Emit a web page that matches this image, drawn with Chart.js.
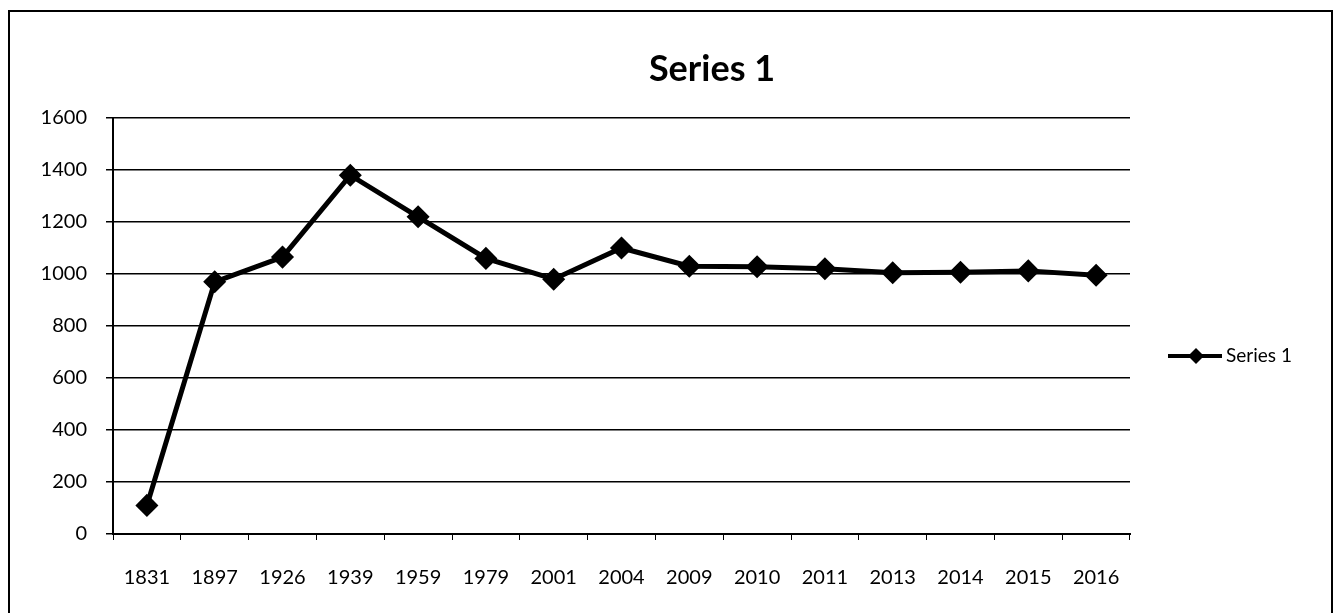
<!DOCTYPE html>
<html lang="en">
<head>
<meta charset="UTF-8">
<title>Series 1</title>
<style>
  html, body { margin: 0; padding: 0; background: #fff; }
  .wrap { position: relative; width: 1342px; height: 613px; }
  .frame {
    position: absolute; left: 8px; top: 10px; width: 1325px; height: 620px;
    border: 2px solid #000; box-sizing: border-box; pointer-events: none;
  }
</style>
</head>
<body>
<div class="wrap">
  <canvas id="grafico" width="1342" height="613"></canvas>
  <div class="frame"></div>
</div>

<script src="https://cdn.jsdelivr.net/npm/chart.js"></script>
<script>
// dados
const anos = ['1831', '1897', '1926', '1939', '1959', '1979', '2001', '2004', '2009', '2010', '2011', '2013', '2014', '2015', '2016'];
const valores = [110, 970, 1065, 1380, 1220, 1060, 980, 1100, 1030, 1028, 1020, 1005, 1007, 1012, 995];
const nomeSerie = 'Series 1';
const tituloGrafico = 'Series 1';
const yMin = 0, yMax = 1600, yPasso = 200;

const fonte = 'Lato, "DejaVu Sans", sans-serif';

// titulo e legenda desenhados como no Excel
const tituloELegenda = {
  id: 'tituloELegenda',
  afterDraw(chart) {
    const ctx = chart.ctx;
    ctx.save();
    ctx.fillStyle = '#000';
    ctx.font = 'bold 36px ' + fonte;
    ctx.textAlign = 'center';
    ctx.textBaseline = 'middle';
    ctx.fillText(tituloGrafico, 712, 69);

    // legenda: linha com losango
    const y = 356;
    ctx.strokeStyle = '#000';
    ctx.lineWidth = 4;
    ctx.beginPath();
    ctx.moveTo(1168, y);
    ctx.lineTo(1222, y);
    ctx.stroke();
    ctx.beginPath();
    ctx.moveTo(1196, y - 8);
    ctx.lineTo(1204, y);
    ctx.lineTo(1196, y + 8);
    ctx.lineTo(1188, y);
    ctx.closePath();
    ctx.fill();
    ctx.font = '19px ' + fonte;
    ctx.textAlign = 'left';
    ctx.fillText(nomeSerie, 1226, y);
    ctx.restore();
  }
};

new Chart(document.getElementById('grafico'), {
  type: 'line',
  data: {
    labels: anos,
    datasets: [{
      label: nomeSerie,
      data: valores,
      borderColor: '#000',
      backgroundColor: '#000',
      borderWidth: 5,
      tension: 0,
      pointStyle: 'rectRot',
      pointRadius: 8,
      pointHoverRadius: 8,
      pointBackgroundColor: '#000',
      pointBorderColor: '#000'
    }]
  },
  options: {
    responsive: false,
    animation: false,
    layout: { padding: { top: 118, right: 212, bottom: 0, left: 0 } },
    plugins: {
      legend: { display: false },
      title: { display: false },
      tooltip: { enabled: false }
    },
    scales: {
      x: {
        offset: true,
        grid: { display: true, drawOnChartArea: false, drawTicks: true, tickLength: 6, color: '#000', offset: true },
        border: { display: true, color: '#000', width: 2 },
        ticks: { color: '#000', font: { family: fonte, size: 20 }, padding: 26, maxRotation: 0, autoSkip: false },
        afterFit(scale) { scale.height = 79; }
      },
      y: {
        min: yMin,
        max: yMax,
        grid: { color: '#000', lineWidth: 1.5, drawTicks: true, tickLength: 7 },
        border: { display: true, color: '#000', width: 2 },
        ticks: {
          stepSize: yPasso, color: '#000', font: { family: fonte, size: 20 }, padding: 19,
          callback: (v) => String(v)
        },
        afterFit(scale) { scale.width = 113; }
      }
    }
  },
  plugins: [tituloELegenda]
});
</script>
</body>
</html>
